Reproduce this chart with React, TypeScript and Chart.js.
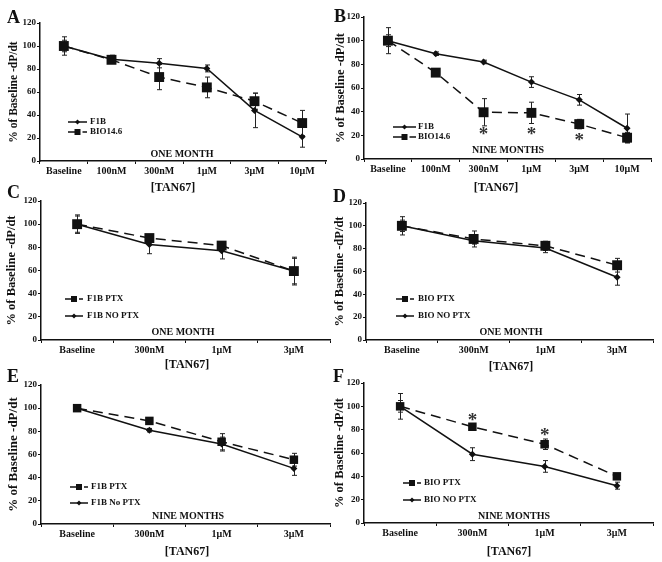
import React, { useEffect, useRef } from 'react';
import { Chart, registerables } from 'chart.js';

Chart.register(...registerables);

const SERIF = '"Liberation Serif", "Times New Roman", Times, serif';
const INK = '#111111';

// ---- categories ----
const concentrationsAB = ['Baseline', '100nM', '300nM', '1μM', '3μM', '10μM'];
const concentrationsCF = ['Baseline', '300nM', '1μM', '3μM'];

// ---- Panel A (one month) ----
const aF1B = [100, 88.5, 85, 80.5, 44, 21];
const aF1BErr = [8, 3.5, 4, 3, 15, 9];
const aBIO = [100, 88, 73, 64, 52, 33];
const aBIOErr = [5, 3, 11, 9, 7, 11];

// ---- Panel B (nine months) ----
const bF1B = [100, 89, 82, 65, 50, 26];
const bF1BErr = [11, 1.5, 1.5, 4.5, 4.5, 12];
const bBIO = [100, 73, 39.5, 39, 29.5, 18];
const bBIOErr = [5, 2, 11.5, 9, 4, 4.5];
const bStars = [null, null, 24, 24, 19, null];

// ---- Panel C (F1B, one month) ----
const cPTX = [100, 88, 81.5, 59.5];
const cPTXErr = [8, 2, 3, 12];
const cNoPTX = [100, 82.5, 77, 59.5];
const cNoPTXErr = [7, 8, 7, 11];

// ---- Panel D (BIO, one month) ----
const dPTX = [100, 88.5, 82.5, 65.5];
const dPTXErr = [8, 7, 4, 6];
const dNoPTX = [100, 87, 80.5, 55];
const dNoPTXErr = [5, 3, 4, 7];

// ---- Panel E (F1B, nine months) ----
const ePTX = [100, 89, 71, 55.5];
const ePTXErr = [2, 1.5, 7, 5.5];
const eNoPTX = [100, 81, 69, 48];
const eNoPTXErr = [2, 1.5, 6, 6];

// ---- Panel F (BIO, nine months) ----
const fPTX = [100, 82.5, 67.5, 40];
const fPTXErr = [5, 2, 4.5, 2];
const fNoPTX = [100, 59, 48.5, 32];
const fNoPTXErr = [11, 5.5, 5, 3];
const fStars = [null, 91, 78, null];

const yAxisTitle = '% of Baseline -dP/dt';
const xAxisTitle = '[TAN67]';

interface Series { label: string; data: number[]; err: number[]; }
interface PanelDef {
  letter: string; period: string; labels: string[];
  solid: Series; dashed: Series; dashedFirst: boolean;
  stars?: (number | null)[];
  cx: number; cy: number; w: number; h: number;
  L: number; T: number; R: number; B: number;
  letterX: number; letterY: number;
  yTitleX: number; yTitleSize: number;
  xTitleX: number; xTitleY: number;
  periodX: number; periodY: number;
  legX0: number; legX1: number; legTextX: number; legY1: number; legY2: number;
  sq: number;
}

const panels: PanelDef[] = [
  {
    letter: 'A', period: 'ONE MONTH', labels: concentrationsAB,
    solid: { label: 'F1B', data: aF1B, err: aF1BErr },
    dashed: { label: 'BIO14.6', data: aBIO, err: aBIOErr }, dashedFirst: false,
    cx: 0, cy: 0, w: 331, h: 196, L: 40, T: 23, R: 326, B: 161,
    letterX: 7, letterY: 23, yTitleX: 14, yTitleSize: 11.5,
    xTitleX: 173, xTitleY: 188, periodX: 182, periodY: 154,
    legX0: 68, legX1: 87, legTextX: 90, legY1: 122, legY2: 132, sq: 7,
  },
  {
    letter: 'B', period: 'NINE MONTHS', labels: concentrationsAB,
    solid: { label: 'F1B', data: bF1B, err: bF1BErr },
    dashed: { label: 'BIO14.6', data: bBIO, err: bBIOErr }, dashedFirst: false,
    stars: bStars,
    cx: 331, cy: 0, w: 331, h: 196, L: 33, T: 17, R: 320, B: 159,
    letterX: 3, letterY: 22, yTitleX: 10, yTitleSize: 12.5,
    xTitleX: 165, xTitleY: 188, periodX: 177, periodY: 150,
    legX0: 62, legX1: 85, legTextX: 87, legY1: 127, legY2: 137, sq: 7,
  },
  {
    letter: 'C', period: 'ONE MONTH', labels: concentrationsCF,
    solid: { label: 'F1B NO PTX', data: cNoPTX, err: cNoPTXErr },
    dashed: { label: 'F1B PTX', data: cPTX, err: cPTXErr }, dashedFirst: true,
    cx: 0, cy: 175, w: 331, h: 206, L: 41, T: 26, R: 330, B: 165,
    letterX: 7, letterY: 23, yTitleX: 12, yTitleSize: 12.5,
    xTitleX: 187, xTitleY: 190, periodX: 183, periodY: 157,
    legX0: 65, legX1: 83, legTextX: 87, legY1: 124, legY2: 141, sq: 7,
  },
  {
    letter: 'D', period: 'ONE MONTH', labels: concentrationsCF,
    solid: { label: 'BIO NO PTX', data: dNoPTX, err: dNoPTXErr },
    dashed: { label: 'BIO PTX', data: dPTX, err: dPTXErr }, dashedFirst: true,
    cx: 331, cy: 175, w: 331, h: 206, L: 35, T: 28, R: 322, B: 165,
    letterX: 2, letterY: 27, yTitleX: 9, yTitleSize: 12.5,
    xTitleX: 180, xTitleY: 192, periodX: 180, periodY: 157,
    legX0: 65, legX1: 83, legTextX: 87, legY1: 124, legY2: 141, sq: 7,
  },
  {
    letter: 'E', period: 'NINE MONTHS', labels: concentrationsCF,
    solid: { label: 'F1B No PTX', data: eNoPTX, err: eNoPTXErr },
    dashed: { label: 'F1B PTX', data: ePTX, err: ePTXErr }, dashedFirst: true,
    cx: 0, cy: 358, w: 331, h: 204, L: 41, T: 27, R: 330, B: 166,
    letterX: 7, letterY: 24, yTitleX: 14, yTitleSize: 13,
    xTitleX: 187, xTitleY: 194, periodX: 188, periodY: 158,
    legX0: 70, legX1: 88, legTextX: 91, legY1: 129, legY2: 145, sq: 6,
  },
  {
    letter: 'F', period: 'NINE MONTHS', labels: concentrationsCF,
    solid: { label: 'BIO NO PTX', data: fNoPTX, err: fNoPTXErr },
    dashed: { label: 'BIO PTX', data: fPTX, err: fPTXErr }, dashedFirst: true,
    stars: fStars,
    cx: 331, cy: 358, w: 331, h: 204, L: 33, T: 25, R: 322, B: 165,
    letterX: 2, letterY: 24, yTitleX: 9, yTitleSize: 12.5,
    xTitleX: 178, xTitleY: 194, periodX: 183, periodY: 158,
    legX0: 72, legX1: 90, legTextX: 93, legY1: 125, legY2: 142, sq: 6,
  },
];

const DASH = [10, 6];

function makePlugin(p: PanelDef) {
  return {
    id: 'panelDecor' + p.letter,
    beforeDatasetsDraw(chart: any) {
      const ctx = chart.ctx;
      const ys = chart.scales.y;
      ctx.save();
      ctx.strokeStyle = '#222';
      ctx.lineWidth = 1;
      ctx.setLineDash([]);
      chart.data.datasets.forEach((ds: any, i: number) => {
        const meta = chart.getDatasetMeta(i);
        meta.data.forEach((pt: any, j: number) => {
          const v = ds.data[j];
          const e = ds.errors[j];
          if (!e) return;
          const x = Math.round(pt.x) + 0.5;
          const y1 = ys.getPixelForValue(v + e);
          const y2 = ys.getPixelForValue(v - e);
          ctx.beginPath();
          ctx.moveTo(x, y1); ctx.lineTo(x, y2);
          ctx.moveTo(x - 2.5, y1); ctx.lineTo(x + 2.5, y1);
          ctx.moveTo(x - 2.5, y2); ctx.lineTo(x + 2.5, y2);
          ctx.stroke();
        });
      });
      ctx.restore();
    },
    afterDraw(chart: any) {
      const ctx = chart.ctx;
      const area = chart.chartArea;
      ctx.save();
      ctx.fillStyle = INK;
      // panel letter
      ctx.font = `bold 18px ${SERIF}`;
      ctx.textAlign = 'left';
      ctx.textBaseline = 'alphabetic';
      ctx.fillText(p.letter, p.letterX, p.letterY);
      // y title
      ctx.save();
      ctx.translate(p.yTitleX, (area.top + area.bottom) / 2);
      ctx.rotate(-Math.PI / 2);
      ctx.font = `bold ${p.yTitleSize}px ${SERIF}`;
      ctx.textAlign = 'center';
      ctx.textBaseline = 'middle';
      ctx.fillText(yAxisTitle, 0, 0);
      ctx.restore();
      // x title
      ctx.font = `bold 12px ${SERIF}`;
      ctx.textAlign = 'center';
      ctx.textBaseline = 'middle';
      ctx.fillText(xAxisTitle, p.xTitleX, p.xTitleY);
      // period label
      ctx.font = `bold 10px ${SERIF}`;
      ctx.fillText(p.period, p.periodX, p.periodY);
      // legend
      const entries = p.dashedFirst
        ? [{ s: p.dashed, dashed: true }, { s: p.solid, dashed: false }]
        : [{ s: p.solid, dashed: false }, { s: p.dashed, dashed: true }];
      entries.forEach((en, k) => {
        const y = k === 0 ? p.legY1 : p.legY2;
        const c = (p.legX0 + p.legX1) / 2;
        ctx.strokeStyle = INK;
        ctx.lineWidth = 1.5;
        ctx.setLineDash([]);
        ctx.beginPath();
        if (en.dashed) {
          ctx.moveTo(p.legX0, y); ctx.lineTo(c, y);
          ctx.moveTo(c + 5, y); ctx.lineTo(p.legX1, y);
        } else {
          ctx.moveTo(p.legX0, y); ctx.lineTo(p.legX1, y);
        }
        ctx.stroke();
        ctx.fillStyle = INK;
        ctx.beginPath();
        if (en.dashed) {
          ctx.rect(c - 3, y - 3, 6, 6);
        } else {
          ctx.moveTo(c - 2.5, y); ctx.lineTo(c, y - 2.5); ctx.lineTo(c + 2.5, y); ctx.lineTo(c, y + 2.5);
          ctx.closePath();
        }
        ctx.fill();
        ctx.font = `bold 9px ${SERIF}`;
        ctx.textAlign = 'left';
        ctx.textBaseline = 'middle';
        ctx.fillText(en.s.label, p.legTextX, y);
      });
      // significance asterisks
      if (p.stars) {
        const xs = chart.scales.x;
        const ys = chart.scales.y;
        ctx.font = `bold 19px ${SERIF}`;
        ctx.textAlign = 'center';
        ctx.textBaseline = 'alphabetic';
        ctx.fillStyle = '#333';
        p.stars.forEach((v, j) => {
          if (v == null) return;
          const x = xs.getPixelForValue(j);
          const y = ys.getPixelForValue(v);
          ctx.fillText('*', x, y + 9);
        });
      }
      ctx.restore();
    },
  };
}

function makeConfig(p: PanelDef): any {
  const solidDs = {
    label: p.solid.label,
    data: p.solid.data,
    errors: p.solid.err,
    borderColor: INK,
    backgroundColor: INK,
    borderWidth: 1.5,
    pointStyle: 'rectRot',
    pointRadius: 3.5,
    pointBorderWidth: 0,
    tension: 0,
    clip: false,
  };
  const dashedDs = {
    label: p.dashed.label,
    data: p.dashed.data,
    errors: p.dashed.err,
    borderColor: INK,
    backgroundColor: INK,
    borderWidth: 1.5,
    borderDash: DASH,
    pointStyle: 'rect',
    pointRadius: p.sq,
    pointBorderWidth: 0,
    tension: 0,
    clip: false,
  };
  return {
    type: 'line',
    data: { labels: p.labels, datasets: [dashedDs, solidDs] },
    options: {
      responsive: false,
      animation: false,
      devicePixelRatio: 1,
      events: [],
      layout: {
        autoPadding: false,
        padding: { left: 0, top: p.T, right: p.w - p.R, bottom: 0 },
      },
      plugins: { legend: { display: false }, tooltip: { enabled: false }, title: { display: false } },
      scales: {
        x: {
          type: 'category',
          offset: true,
          grid: {
            offset: true, drawOnChartArea: false, drawTicks: true,
            tickLength: 3, color: INK, lineWidth: 1,
          },
          border: { display: true, color: INK, width: 1.5 },
          ticks: {
            color: INK, font: { family: SERIF, size: 10, weight: 'bold' },
            padding: 1, maxRotation: 0, autoSkip: false,
          },
          afterFit: (scale: any) => { scale.height = p.h - p.B; },
        },
        y: {
          min: 0, max: 120,
          grid: { drawOnChartArea: false, drawTicks: true, tickLength: 3, color: INK, lineWidth: 1 },
          border: { display: true, color: INK, width: 1.5 },
          ticks: {
            stepSize: 20, color: INK, padding: 1,
            font: { family: SERIF, size: 9, weight: 'bold' },
          },
          afterFit: (scale: any) => { scale.width = p.L; },
        },
      },
    },
    plugins: [makePlugin(p)],
  };
}

function Panel({ p }: { p: PanelDef }) {
  const ref = useRef<HTMLCanvasElement | null>(null);
  useEffect(() => {
    if (!ref.current) return;
    const chart = new Chart(ref.current, makeConfig(p));
    return () => chart.destroy();
  }, [p]);
  return (
    <canvas
      ref={ref}
      width={p.w}
      height={p.h}
      style={{ position: 'absolute', left: p.cx, top: p.cy, width: p.w, height: p.h }}
    />
  );
}

export default function App() {
  return (
    <div style={{ position: 'absolute', left: 0, top: 0, width: 662, height: 562, background: '#ffffff', overflow: 'hidden' }}>
      {panels.map((p) => (
        <Panel key={p.letter} p={p} />
      ))}
    </div>
  );
}
